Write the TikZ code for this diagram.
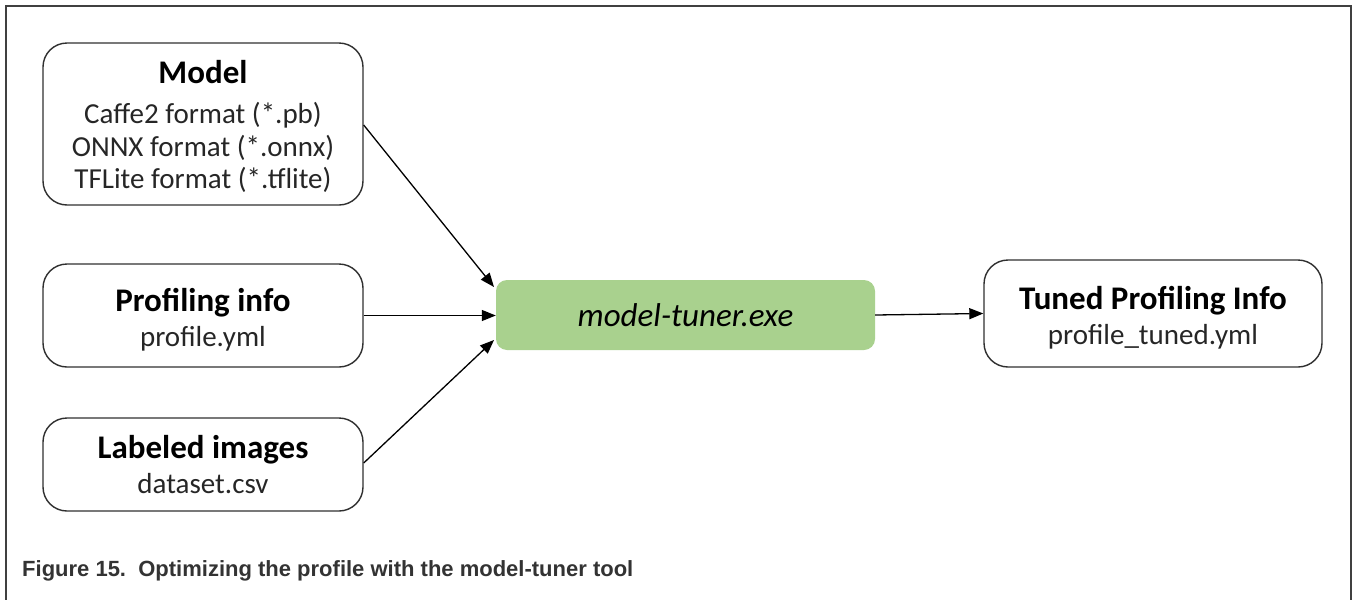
\documentclass[tikz,border=0pt]{standalone}
\usepackage{fontspec}
\setmainfont{Carlito}
\newfontfamily\capfont{Liberation Sans}
\usetikzlibrary{arrows.meta}
\definecolor{frame}{HTML}{404040}
\definecolor{boxline}{HTML}{2F2F2F}
\definecolor{tunerfill}{HTML}{A9D18E}
\definecolor{captxt}{HTML}{333333}
\tikzset{
  inbox/.style={draw=boxline, line width=1.4pt, rounded corners=24pt},
  intext/.style={align=center, inner sep=0pt, text=black!85, font=\fontsize{29}{32.5}\selectfont},
  tunerbox/.style={fill=tunerfill, rounded corners=11pt, inner sep=0pt, font=\fontsize{33}{38}\selectfont\itshape},
  conn/.style={line width=1.3pt, draw=black, -{Triangle[length=14pt,width=11pt]}},
}
\newcommand{\ttl}[1]{{\fontsize{33}{38}\selectfont\bfseries\color{black} #1}}
\begin{document}
\begin{tikzpicture}[x=1pt,y=-1pt]
\useasboundingbox (0,0) rectangle (1353,600);
\draw[frame, line width=2.5pt] (6,600) -- (6,6) -- (1351,6) -- (1351,600);
\node[inbox, minimum width=320pt, minimum height=162pt] (model) at (203,124) {};
\node[intext] (modeltxt) at (203,126.5)
  {\ttl{Model}\\[7.5pt] Caffe2 format (*.pb)\\ ONNX format (*.onnx)\\ TFLite format (*.tflite)};
\node[inbox, minimum width=320pt, minimum height=103pt] (prof) at (203,315.5) {};
\node[intext] (proftxt) at (203,320) {\ttl{Profiling info}\\[2.5pt] profile.yml};
\node[inbox, minimum width=320pt, minimum height=93pt] (lab) at (203,464.5) {};
\node[intext] (labtxt) at (203,464.5) {\ttl{Labeled images}\\[3pt] dataset.csv};
\node[tunerbox, minimum width=379pt, minimum height=70pt] (tuner) at (685.5,315) {model-tuner.exe};
\node[inbox, minimum width=338pt, minimum height=107pt] (tuned) at (1153,313.5) {};
\node[intext] (tunedtxt) at (1153,317.5) {\ttl{Tuned Profiling Info}\\[3pt] profile\_tuned.yml};
\coordinate (t1) at (494,287);
\coordinate (t3) at (494,340);
\draw[conn] (model.east |- 0,125) -- (t1);
\draw[conn] (prof.east) -- (prof.east -| tuner.west);
\draw[conn] (lab.east |- 0,463) -- (t3);
\draw[conn] (tuner.east) -- (tuned.west);
\node[anchor=base west, inner sep=0pt, text=captxt, font=\capfont\bfseries\fontsize{22}{26}\selectfont] (cap) at (22,576)
  {Figure 15.\ \ Optimizing the profile with the model-tuner tool};
\end{tikzpicture}
\end{document}
